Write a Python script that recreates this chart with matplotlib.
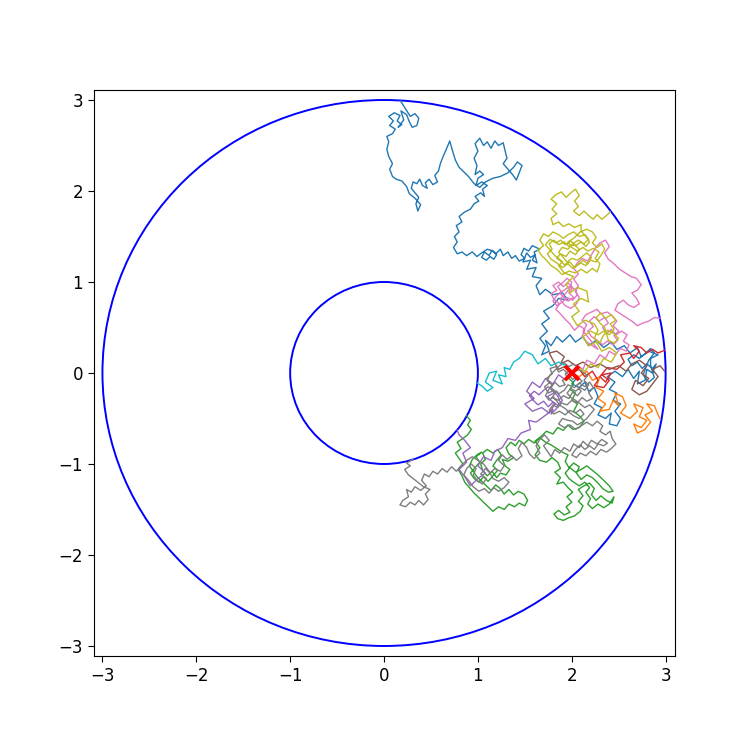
import matplotlib
matplotlib.use("Agg")
import matplotlib.pyplot as plt
from matplotlib.patches import Circle

# Circle radii and start point
radii = [1, 3]
start = (2.0, 0.0)

# Walk paths (waypoints), tab10 order
walk_c0 = [(2.00,0.00),(2.05,-0.06),(2.00,-0.12),(2.08,-0.16),(2.14,-0.10),(2.18,-0.20),(2.24,-0.16),(2.28,-0.26),(2.24,-0.34),(2.32,-0.38),(2.28,-0.46),(2.36,-0.50),(2.42,-0.44),(2.40,-0.56),(2.48,-0.58),(2.52,-0.50),(2.46,-0.42),(2.52,-0.34),(2.44,-0.30),(2.48,-0.22),(2.40,-0.18),(2.46,-0.10),(2.38,-0.04),(2.46,0.02),(2.54,-0.04),(2.60,0.04),(2.66,-0.06),(2.72,0.02),(2.70,-0.12),(2.78,-0.08),(2.80,0.04),(2.86,0.00),(2.90,0.10),(2.86,0.05),(2.80,0.10),(2.75,0.05),(2.70,0.12),(2.64,0.08),(2.60,0.15),(2.66,0.20),(2.72,0.16),(2.78,0.21),(2.84,0.27),(2.88,0.22),(2.82,0.14),(2.76,-0.02),(2.82,-0.10),(2.88,-0.05),(2.84,0.08),(2.84,0.16),(2.92,0.20),(2.82,0.24),(2.74,0.18),(2.70,0.28),(2.62,0.22),(2.56,0.30),(2.48,0.26),(2.42,0.34),(2.34,0.28),(2.26,0.36),(2.18,0.30),(2.12,0.40),(2.04,0.34),(1.98,0.42),(1.90,0.34),(1.84,0.40),(1.78,0.30),(1.72,0.36),(1.76,0.24),(1.68,0.20),(1.72,0.30),(1.66,0.38),(1.74,0.46),(1.68,0.54),(1.76,0.60),(1.70,0.68),(1.80,0.74),(1.86,0.82),(1.96,0.80),(1.90,0.88),(1.80,0.86),(1.72,0.92),(1.66,0.86),(1.62,0.96),(1.68,1.04),(1.58,1.06),(1.62,1.16),(1.52,1.14),(1.56,1.24),(1.48,1.22),(1.52,1.32),(1.56,1.27),(1.61,1.30),(1.58,1.24),(1.63,1.21),(1.60,1.33),(1.66,1.36),(1.58,1.40),(1.54,1.34),(1.49,1.37),(1.46,1.30),(1.50,1.26),(1.44,1.23),(1.40,1.29),(1.36,1.26),(1.32,1.33),(1.27,1.29),(1.24,1.36),(1.19,1.31),(1.15,1.35),(1.12,1.29),(1.07,1.33),(1.04,1.27),(1.09,1.24),(1.13,1.28),(1.17,1.25),(1.20,1.30),(1.16,1.34),(1.10,1.36),(1.04,1.32),(0.99,1.28),(0.94,1.33),(0.88,1.29),(0.83,1.33),(0.78,1.31),(0.74,1.38),(0.78,1.44),(0.75,1.50),(0.80,1.55),(0.77,1.62),(0.83,1.66),(0.80,1.72),(0.86,1.77),(0.92,1.80),(0.96,1.86),(1.01,1.89),(0.97,1.94),(1.03,1.98),(1.07,1.94),(1.05,2.02),(1.10,2.06),(1.04,2.10),(0.98,2.06),(1.00,2.14),(1.06,2.18),(1.02,2.22),(0.97,2.18),(0.99,2.28),(0.96,2.36),(1.00,2.44),(0.97,2.52),(1.02,2.58),(1.06,2.50),(1.10,2.54),(1.14,2.47),(1.18,2.55),(1.22,2.50),(1.27,2.53),(1.29,2.44),(1.31,2.36),(1.27,2.30),(1.32,2.24),(1.37,2.18),(1.41,2.12),(1.44,2.20),(1.47,2.28),(1.42,2.32),(1.38,2.26),(1.32,2.20),(1.24,2.16),(1.16,2.14),(1.08,2.10),(1.02,2.04),(0.96,2.08),(0.90,2.16),(0.85,2.21),(0.80,2.26),(0.76,2.34),(0.73,2.44),(0.70,2.55),(0.66,2.45),(0.63,2.38),(0.60,2.30),(0.58,2.22),(0.54,2.17),(0.57,2.10),(0.52,2.07),(0.48,2.13),(0.44,2.09),(0.46,2.03),(0.41,2.06),(0.38,2.13),(0.35,2.08),(0.31,2.10),(0.29,2.03),(0.33,1.98),(0.37,1.93),(0.34,1.86),(0.36,1.78),(0.39,1.85),(0.33,1.92),(0.27,1.97),(0.24,2.05),(0.19,2.11),(0.13,2.13),(0.09,2.16),(0.06,2.24),(0.09,2.30),(0.05,2.38),(0.03,2.46),(0.05,2.54),(0.03,2.60),(0.09,2.63),(0.12,2.68),(0.06,2.72),(0.10,2.77),(0.05,2.82),(0.11,2.86),(0.17,2.83),(0.14,2.77),(0.19,2.73),(0.15,2.70),(0.21,2.78),(0.18,2.88),(0.24,2.84),(0.27,2.76),(0.30,2.70),(0.35,2.72),(0.37,2.80),(0.33,2.85),(0.28,2.82),(0.23,2.90),(0.20,2.95),(0.17,3.00)]
walk_c1 = [(2.00,0.00),(2.08,-0.04),(2.16,0.02),(2.22,-0.08),(2.30,-0.04),(2.26,-0.16),(2.34,-0.20),(2.28,-0.28),(2.36,-0.34),(2.30,-0.42),(2.40,-0.40),(2.44,-0.30),(2.50,-0.36),(2.46,-0.22),(2.54,-0.26),(2.58,-0.36),(2.52,-0.44),(2.62,-0.50),(2.70,-0.42),(2.66,-0.34),(2.76,-0.38),(2.72,-0.48),(2.80,-0.52),(2.74,-0.60),(2.66,-0.56),(2.70,-0.66),(2.78,-0.62),(2.84,-0.54),(2.78,-0.46),(2.86,-0.42),(2.80,-0.34),(2.88,-0.36),(2.92,-0.46),(2.94,-0.50)]
walk_c2 = [(2.00,0.00),(1.97,-0.06),(2.02,-0.11),(1.98,-0.18),(2.04,-0.22),(2.00,-0.30),(2.06,-0.34),(2.02,-0.42),(2.08,-0.47),(2.13,-0.53),(2.08,-0.60),(2.01,-0.62),(1.96,-0.57),(1.91,-0.63),(1.85,-0.60),(1.80,-0.67),(1.73,-0.64),(1.67,-0.70),(1.61,-0.75),(1.66,-0.82),(1.61,-0.90),(1.66,-0.96),(1.73,-0.98),(1.79,-0.93),(1.85,-0.98),(1.88,-1.05),(1.82,-1.09),(1.88,-1.15),(1.84,-1.22),(1.91,-1.20),(1.96,-1.26),(2.01,-1.31),(1.95,-1.36),(2.00,-1.42),(1.94,-1.47),(1.98,-1.53),(1.92,-1.56),(1.86,-1.51),(1.81,-1.55),(1.85,-1.60),(1.91,-1.62),(1.97,-1.59),(2.03,-1.57),(2.09,-1.52),(2.12,-1.46),(2.07,-1.41),(2.12,-1.35),(2.07,-1.28),(2.13,-1.24),(2.19,-1.21),(2.24,-1.27),(2.21,-1.34),(2.26,-1.40),(2.31,-1.35),(2.37,-1.40),(2.43,-1.43),(2.45,-1.36),(2.40,-1.44),(2.34,-1.48),(2.28,-1.44),(2.22,-1.49),(2.17,-1.44),(2.20,-1.38),(2.15,-1.31),(2.19,-1.26),(2.14,-1.20),(2.08,-1.24),(2.02,-1.20),(1.97,-1.16),(1.93,-1.10),(1.98,-1.04),(2.04,-1.09),(2.10,-1.06),(2.16,-1.02),(2.22,-1.07),(2.28,-1.12),(2.34,-1.18),(2.40,-1.24),(2.44,-1.30),(2.39,-1.31),(2.33,-1.27),(2.28,-1.21),(2.22,-1.15),(2.16,-1.12),(2.10,-1.17),(2.05,-1.10),(2.08,-1.03),(2.02,-0.99),(1.97,-1.04),(1.93,-0.97),(1.96,-0.90),(1.90,-0.87),(1.84,-0.83),(1.78,-0.79),(1.72,-0.76),(1.66,-0.71),(1.60,-0.77),(1.54,-0.73),(1.49,-0.78),(1.44,-0.74),(1.40,-0.80),(1.35,-0.76),(1.30,-0.82),(1.33,-0.89),(1.38,-0.93),(1.32,-0.97),(1.26,-0.95),(1.29,-1.02),(1.34,-1.06),(1.30,-1.12),(1.24,-1.10),(1.20,-1.15),(1.15,-1.08),(1.10,-1.13),(1.05,-1.07),(1.03,-1.00),(1.08,-0.95),(1.05,-0.88),(1.10,-0.84),(1.16,-0.88),(1.21,-0.84),(1.25,-0.90),(1.20,-0.96),(1.16,-1.02),(1.21,-1.07),(1.16,-1.13),(1.11,-1.19),(1.06,-1.14),(1.01,-1.20),(0.96,-1.16),(0.92,-1.10),(0.97,-1.04),(1.02,-0.98),(0.98,-0.92),(1.04,-0.87),(0.99,-0.90),(0.94,-0.95),(0.91,-1.02),(0.95,-1.08),(0.99,-1.14),(1.04,-1.19),(1.09,-1.24),(1.14,-1.29),(1.19,-1.23),(1.24,-1.27),(1.28,-1.33),(1.33,-1.28),(1.38,-1.34),(1.43,-1.30),(1.49,-1.33),(1.53,-1.40),(1.50,-1.46),(1.44,-1.43),(1.39,-1.47),(1.33,-1.44),(1.28,-1.50),(1.22,-1.47),(1.16,-1.52),(1.11,-1.47),(1.06,-1.42),(1.01,-1.37),(0.96,-1.32),(0.91,-1.26),(0.86,-1.20),(0.83,-1.13),(0.79,-1.06),(0.84,-1.00),(0.80,-0.94),(0.76,-0.88),(0.82,-0.83),(0.78,-0.76),(0.84,-0.72),(0.89,-0.68),(0.93,-0.62),(0.89,-0.57),(0.92,-0.52),(0.88,-0.47)]
walk_c3 = [(2.00,0.00),(2.08,0.04),(2.14,-0.04),(2.22,0.02),(2.28,-0.08),(2.24,-0.14),(2.34,-0.16),(2.40,-0.08),(2.32,-0.02),(2.42,0.00),(2.36,-0.10),(2.30,-0.04),(2.38,0.06),(2.48,0.04),(2.56,0.12),(2.52,0.20),(2.62,0.22),(2.66,0.16),(2.72,0.24),(2.66,0.30),(2.74,0.28),(2.80,0.22),(2.86,0.26),(2.92,0.22),(2.99,0.25)]
walk_c4 = [(2.00,0.00),(1.94,-0.08),(1.86,-0.02),(1.80,-0.12),(1.72,-0.06),(1.66,-0.16),(1.58,-0.10),(1.52,-0.20),(1.60,-0.28),(1.50,-0.34),(1.58,-0.42),(1.68,-0.38),(1.76,-0.44),(1.82,-0.34),(1.74,-0.26),(1.84,-0.20),(1.90,-0.30),(1.86,-0.36),(1.80,-0.32),(1.75,-0.37),(1.70,-0.31),(1.64,-0.35),(1.59,-0.30),(1.55,-0.25),(1.60,-0.20),(1.65,-0.24),(1.70,-0.19),(1.75,-0.15),(1.80,-0.20),(1.85,-0.25),(1.88,-0.33),(1.83,-0.40),(1.78,-0.45),(1.80,-0.40),(1.70,-0.48),(1.62,-0.54),(1.54,-0.52),(1.56,-0.62),(1.46,-0.66),(1.40,-0.74),(1.32,-0.72),(1.26,-0.82),(1.18,-0.86),(1.14,-0.96),(1.06,-0.92),(1.00,-1.02),(1.08,-1.10),(1.00,-1.16),(0.92,-1.24),(0.86,-1.14),(0.80,-1.06),(0.88,-0.98),(0.84,-0.88),(0.92,-0.82),(0.86,-0.74),(0.80,-0.68),(0.78,-0.63)]
walk_c5 = [(2.00,0.00),(1.94,0.08),(1.86,0.04),(1.80,0.14),(1.76,0.22),(1.84,0.24),(1.92,0.18),(1.88,0.10),(1.96,0.14),(2.04,0.08),(2.12,0.12),(2.20,0.06),(2.30,0.10),(2.40,0.04),(2.50,0.08),(2.58,0.02),(2.64,0.10),(2.72,0.14),(2.80,0.08),(2.74,0.00),(2.82,-0.06),(2.76,-0.14),(2.68,-0.08),(2.64,-0.18),(2.72,-0.24),(2.80,-0.20),(2.86,-0.12),(2.92,-0.04),(2.86,0.04),(2.94,0.08),(2.99,0.02)]
walk_c6 = [(2.00,0.00),(2.06,0.08),(2.12,0.04),(2.16,0.14),(2.24,0.10),(2.30,0.20),(2.36,0.16),(2.40,0.24),(2.46,0.20),(2.52,0.27),(2.58,0.24),(2.61,0.31),(2.55,0.35),(2.59,0.42),(2.53,0.46),(2.47,0.42),(2.42,0.48),(2.37,0.43),(2.33,0.50),(2.39,0.55),(2.35,0.61),(2.29,0.57),(2.24,0.62),(2.19,0.57),(2.23,0.51),(2.17,0.46),(2.21,0.40),(2.27,0.36),(2.33,0.31),(2.38,0.35),(2.44,0.31),(2.49,0.36),(2.45,0.41),(2.50,0.46),(2.44,0.52),(2.48,0.57),(2.43,0.63),(2.38,0.67),(2.31,0.65),(2.27,0.70),(2.21,0.67),(2.15,0.64),(2.11,0.58),(2.16,0.53),(2.12,0.46),(2.28,0.26),(2.22,0.30),(2.16,0.34),(2.11,0.40),(2.14,0.48),(2.08,0.52),(2.03,0.47),(1.98,0.54),(1.93,0.59),(1.88,0.65),(1.83,0.70),(1.87,0.76),(1.81,0.81),(1.78,0.87),(1.84,0.91),(1.80,0.96),(1.86,1.00),(1.91,0.95),(1.96,0.99),(2.01,0.94),(1.97,0.88),(2.02,0.83),(1.96,0.79),(1.91,0.84),(1.87,0.88),(1.92,0.91),(1.97,0.95),(2.03,0.92),(2.06,0.86),(2.01,0.80),(1.95,0.83),(1.90,0.78),(1.84,0.74),(1.80,0.79),(1.84,0.85),(1.89,0.89),(1.85,0.95),(1.90,0.99),(1.95,1.04),(2.00,1.00),(1.98,0.93),(1.93,0.87),(1.88,0.82),(1.88,0.80),(1.93,0.74),(1.99,0.71),(2.05,0.76),(2.08,0.83),(2.04,0.89),(2.07,0.96),(2.02,1.03),(2.07,1.09),(2.02,1.15),(2.06,1.21),(2.11,1.26),(2.17,1.23),(2.21,1.30),(2.25,1.37),(2.30,1.43),(2.36,1.46),(2.40,1.39),(2.35,1.32),(2.39,1.25),(2.45,1.20),(2.51,1.14),(2.57,1.10),(2.63,1.06),(2.69,1.04),(2.74,0.97),(2.70,0.91),(2.64,0.88),(2.69,0.82),(2.72,0.76),(2.66,0.72),(2.60,0.75),(2.55,0.80),(2.49,0.76),(2.46,0.69),(2.52,0.65),(2.58,0.61),(2.64,0.57),(2.70,0.52),(2.76,0.55),(2.82,0.57),(2.88,0.61),(2.94,0.60)]
walk_c7 = [(2.00,0.00),(1.98,0.03),(1.93,-0.01),(1.96,-0.06),(1.90,-0.08),(1.93,-0.13),(1.87,-0.15),(1.82,-0.10),(1.78,-0.16),(1.83,-0.21),(1.79,-0.27),(1.86,-0.30),(1.91,-0.25),(1.97,-0.28),(2.01,-0.21),(2.06,-0.25),(2.10,-0.20),(2.05,-0.14),(2.11,-0.09),(2.06,-0.04),(2.01,-0.07),(1.97,-0.02),(1.91,0.04),(1.86,0.01),(1.83,0.07),(1.77,0.05),(1.79,-0.01),(1.73,-0.06),(1.76,-0.11),(1.71,-0.15),(1.75,-0.22),(1.81,-0.19),(1.86,-0.23),(1.92,-0.19),(1.96,-0.13),(2.03,-0.16),(2.08,-0.11),(2.14,-0.15),(2.19,-0.10),(2.23,-0.16),(2.18,-0.22),(2.22,-0.28),(2.16,-0.31),(2.11,-0.27),(2.06,-0.33),(2.00,-0.30),(1.95,-0.35),(1.89,-0.33),(1.85,-0.38),(1.80,-0.35),(1.76,-0.41),(1.81,-0.45),(1.87,-0.42),(1.93,-0.46),(1.98,-0.41),(2.04,-0.44),(2.09,-0.40),(2.13,-0.45),(2.08,-0.50),(2.02,-0.47),(1.97,-0.43),(1.93,-0.39),(1.88,-0.36),(1.84,-0.31),(1.80,-0.26),(1.76,-0.30),(1.72,-0.25),(1.75,-0.19),(1.79,-0.13),(1.74,-0.08),(1.77,-0.02),(1.82,0.03),(1.87,0.08),(1.92,0.11),(1.97,0.07),(2.02,0.10),(2.07,0.05),(2.12,0.01),(2.17,-0.03),(2.13,-0.08),(2.18,-0.13),(2.14,-0.19),(2.09,-0.16),(2.04,-0.20),(1.99,-0.17),(1.95,-0.22),(1.99,-0.27),(2.04,-0.30),(2.09,-0.34),(2.14,-0.38),(2.19,-0.35),(2.24,-0.40),(2.20,-0.45),(2.16,-0.50),(2.11,-0.54),(2.06,-0.57),(2.01,-0.53),(1.96,-0.52),(1.90,-0.50),(1.86,-0.56),(1.92,-0.60),(1.98,-0.57),(2.04,-0.62),(2.10,-0.58),(2.16,-0.54),(2.22,-0.58),(2.27,-0.53),(2.33,-0.58),(2.30,-0.64),(2.36,-0.68),(2.41,-0.64),(2.43,-0.72),(2.47,-0.78),(2.42,-0.83),(2.37,-0.87),(2.31,-0.84),(2.26,-0.90),(2.20,-0.86),(2.15,-0.91),(2.09,-0.88),(2.05,-0.93),(2.00,-0.90),(2.04,-0.84),(2.09,-0.79),(2.14,-0.84),(2.19,-0.80),(2.24,-0.84),(2.28,-0.78),(2.34,-0.80),(2.38,-0.77),(2.32,-0.73),(2.27,-0.78),(2.21,-0.74),(2.17,-0.80),(2.12,-0.75),(2.08,-0.82),(2.02,-0.78),(1.98,-0.86),(1.92,-0.82),(1.87,-0.88),(1.82,-0.84),(1.78,-0.92),(1.74,-0.86),(1.70,-0.80),(1.76,-0.74),(1.71,-0.68),(1.66,-0.73),(1.62,-0.80),(1.66,-0.88),(1.60,-0.94),(1.55,-0.89),(1.52,-0.82),(1.47,-0.76),(1.43,-0.83),(1.47,-0.91),(1.41,-0.96),(1.36,-0.91),(1.31,-0.95),(1.26,-0.90),(1.22,-0.96),(1.28,-1.02),(1.24,-1.08),(1.18,-1.05),(1.13,-1.10),(1.08,-1.05),(1.03,-1.11),(1.09,-1.16),(1.05,-1.22),(0.99,-1.18),(0.95,-1.12),(0.98,-1.05),(0.93,-1.00),(0.88,-1.05),(0.85,-1.12),(0.90,-1.18),(0.95,-1.25),(1.01,-1.30),(1.07,-1.27),(1.12,-1.32),(1.17,-1.26),(1.22,-1.30),(1.28,-1.26),(1.33,-1.20),(1.28,-1.15),(1.22,-1.19),(1.16,-1.16),(1.12,-1.08),(1.06,-1.00),(1.00,-0.96),(0.94,-0.92),(0.88,-0.96),(0.82,-1.02),(0.77,-1.08),(0.72,-1.03),(0.67,-1.09),(0.62,-1.05),(0.57,-1.11),(0.52,-1.08),(0.48,-1.14),(0.43,-1.11),(0.40,-1.18),(0.45,-1.24),(0.39,-1.29),(0.33,-1.25),(0.29,-1.31),(0.24,-1.28),(0.26,-1.36),(0.20,-1.40),(0.17,-1.45),(0.23,-1.47),(0.28,-1.42),(0.33,-1.45),(0.37,-1.40),(0.42,-1.45),(0.47,-1.39),(0.44,-1.33),(0.49,-1.28),(0.42,-1.25),(0.36,-1.20),(0.31,-1.16),(0.26,-1.12),(0.22,-1.06),(0.28,-1.02),(0.24,-0.99),(0.31,-0.95)]
walk_c8 = [(2.00,0.00),(2.06,0.06),(2.14,0.02),(2.20,0.10),(2.28,0.06),(2.34,0.16),(2.42,0.12),(2.48,0.22),(2.40,0.28),(2.32,0.24),(2.26,0.34),(2.18,0.30),(2.12,0.40),(2.20,0.46),(2.28,0.42),(2.34,0.46),(2.40,0.42),(2.45,0.48),(2.41,0.54),(2.47,0.58),(2.42,0.64),(2.36,0.60),(2.31,0.66),(2.26,0.61),(2.30,0.55),(2.35,0.50),(2.39,0.36),(2.45,0.33),(2.50,0.38),(2.44,0.44),(2.38,0.47),(2.33,0.40),(2.30,0.33),(2.24,0.38),(2.28,0.47),(2.24,0.54),(2.14,0.58),(2.06,0.52),(2.00,0.62),(2.08,0.68),(2.02,0.76),(2.10,0.82),(2.18,0.78),(2.16,0.90),(2.06,0.94),(1.98,0.88),(1.94,0.98),(2.02,1.06),(1.92,1.10),(1.86,1.18),(1.90,1.22),(1.84,1.26),(1.88,1.31),(1.94,1.28),(1.98,1.34),(2.04,1.30),(2.08,1.36),(2.03,1.41),(1.97,1.39),(1.92,1.44),(1.86,1.41),(1.81,1.46),(1.76,1.42),(1.79,1.36),(1.74,1.31),(1.78,1.25),(1.84,1.21),(1.90,1.16),(1.96,1.20),(2.01,1.15),(2.07,1.19),(2.12,1.24),(2.17,1.20),(2.21,1.27),(2.16,1.32),(2.11,1.28),(2.06,1.24),(2.00,1.26),(1.95,1.22),(1.91,1.27),(1.86,1.33),(1.90,1.38),(1.96,1.36),(2.01,1.42),(2.07,1.46),(2.13,1.42),(2.18,1.47),(2.14,1.52),(2.08,1.50),(2.02,1.55),(1.96,1.52),(1.91,1.48),(1.86,1.52),(1.80,1.55),(1.75,1.50),(1.70,1.53),(1.66,1.46),(1.70,1.40),(1.64,1.35),(1.68,1.29),(1.73,1.24),(1.78,1.18),(1.84,1.14),(1.90,1.08),(1.97,1.12),(2.04,1.10),(2.10,1.14),(2.16,1.10),(2.22,1.15),(2.27,1.11),(2.30,1.20),(2.25,1.26),(2.29,1.33),(2.23,1.37),(2.17,1.34),(2.12,1.38),(2.06,1.34),(2.00,1.38),(1.96,1.44),(2.02,1.48),(2.09,1.55),(2.16,1.58),(2.22,1.55),(2.26,1.49),(2.22,1.43),(2.27,1.38),(2.32,1.42),(2.35,1.36),(2.31,1.29),(2.26,1.22),(2.20,1.24),(2.15,1.18),(2.09,1.21),(2.03,1.16),(1.98,1.22),(1.92,1.19),(1.87,1.25),(1.82,1.29),(1.77,1.35),(1.72,1.41),(1.77,1.47),(1.83,1.43),(1.88,1.46),(1.93,1.41),(1.99,1.45),(2.04,1.40),(2.10,1.44),(2.15,1.39),(2.19,1.44),(2.15,1.50),(2.10,1.56),(2.10,1.63),(2.03,1.60),(1.97,1.64),(1.91,1.61),(1.86,1.66),(1.80,1.63),(1.78,1.70),(1.84,1.75),(1.79,1.80),(1.84,1.86),(1.78,1.91),(1.83,1.96),(1.89,1.99),(1.94,1.93),(1.99,1.98),(2.04,2.02),(2.08,1.95),(2.03,1.89),(2.07,1.83),(2.02,1.78),(2.08,1.73),(2.13,1.78),(2.18,1.73),(2.23,1.69),(2.27,1.74),(2.32,1.69),(2.37,1.73),(2.41,1.77)]
walk_c9 = [(2.00,0.00),(1.94,0.08),(1.86,0.12),(1.78,0.08),(1.72,0.16),(1.64,0.10),(1.58,0.20),(1.50,0.24),(1.44,0.16),(1.38,0.12),(1.34,0.04),(1.28,0.06),(1.30,-0.04),(1.22,-0.02),(1.26,-0.12),(1.16,-0.08),(1.20,0.02),(1.12,0.00),(1.08,-0.10),(1.16,-0.16),(1.10,-0.20),(1.04,-0.14),(0.99,-0.11)]

walks = [walk_c0, walk_c1, walk_c2, walk_c3, walk_c4,
         walk_c5, walk_c6, walk_c7, walk_c8, walk_c9]
tick_values = [-3, -2, -1, 0, 1, 2, 3]

fig = plt.figure(figsize=(7.5, 7.5), dpi=100)
ax = fig.add_axes([94/750, 94/750, 581/750, 566/750])

for i, w in enumerate(walks):
    xs = [p[0] for p in w]
    ys = [p[1] for p in w]
    ax.plot(xs, ys, color=f"C{i}", lw=1.0)

for r in radii:
    ax.add_patch(Circle((0, 0), r, fill=False, edgecolor="blue", lw=1.4))

ax.plot([start[0]], [start[1]], marker="x", color="red", markersize=10, mew=2.8, ls="none")

ax.set_xlim(-3.09, 3.10)
ax.set_ylim(-3.11, 3.11)
ax.set_xticks(tick_values)
ax.set_yticks(tick_values)
ax.tick_params(labelsize=12, length=4.5)

fig.savefig("out.png", dpi=100)
